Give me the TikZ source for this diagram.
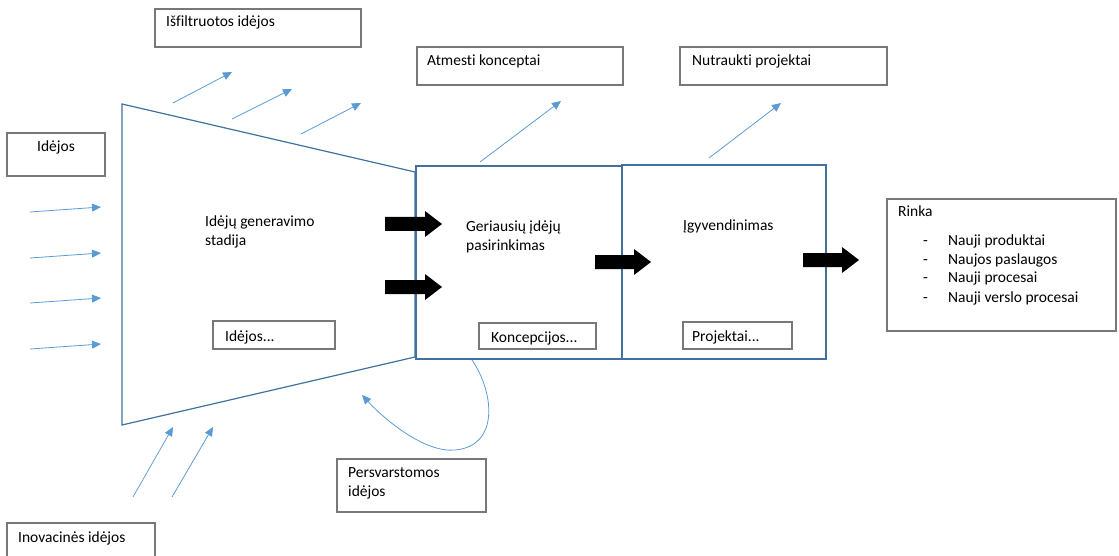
\documentclass[tikz,border=0pt]{standalone}
\usepackage{fontspec}
\setmainfont[Ligatures={NoCommon}]{Carlito}
\usetikzlibrary{arrows.meta}

\definecolor{stageblue}{RGB}{65,113,156}
\definecolor{flowblue}{RGB}{91,155,213}
\definecolor{boxgray}{RGB}{120,120,120}

\tikzset{
  stage/.style={draw=stageblue, line width=1.2pt},
  tagbox/.style={draw=boxgray, line width=1.1pt},
  flow/.style={draw=flowblue, line width=0.8pt,
    -{Triangle[length=9pt,width=8pt]}},
  lbl/.style={anchor=base west, inner sep=0pt,
    font=\fontsize{15.5}{19}\selectfont}
}

\begin{document}
\begin{tikzpicture}[x=1pt, y=-1pt]
  \useasboundingbox (0,0) rectangle (1119,556);

  % Etapai
  \draw[stage] (122,104) -- (415,172) -- (415,357) -- (122,425) -- cycle;
  \draw[stage] (416,166) rectangle (622,359);
  \draw[stage] (622,165) rectangle (826,359);

  \node[lbl] (genstage) at (205,227) {Idėjų generavimo};
  \node[lbl] (genstage2) at (205,245) {stadija};
  \node[lbl] (bestpick) at (466,232) {Geriausių įdėjų};
  \node[lbl] (bestpick2) at (466,251) {pasirinkimas};
  \node[lbl] (impl) at (683,230) {Įgyvendinimas};

  % Vidiniai langeliai
  \draw[tagbox] (213,321) rectangle (335,349);
  \node[lbl] (ideas) at (225,341) {Idėjos...};
  \draw[tagbox] (479,323) rectangle (596,349);
  \node[lbl] (concepts) at (491,342) {Koncepcijos...};
  \draw[tagbox] (683,322) rectangle (792,349);
  \node[lbl] (projects) at (692,341) {Projektai...};

  % Išoriniai langeliai
  \draw[tagbox] (155,9) rectangle (361,47);
  \node[lbl] (filtered) at (166,27) {Išfiltruotos idėjos};
  \draw[tagbox] (7,133) rectangle (105,176);
  \node[lbl] (inputs) at (37,152) {Idėjos};
  \draw[tagbox] (417,47) rectangle (623,85);
  \node[lbl] (rejected) at (427,66) {Atmesti konceptai};
  \draw[tagbox] (680,47) rectangle (887,85);
  \node[lbl] (stopped) at (692,66) {Nutraukti projektai};
  \draw[tagbox] (337,459) rectangle (486,512);
  \node[lbl] (reconsider) at (348,477) {Persvarstomos};
  \node[lbl] (reconsider2) at (348,496) {idėjos};
  \draw[tagbox] (7,556) -- (7,523) -- (155,523) -- (155,556);
  \node[lbl] (innov) at (18,542) {Inovacinės idėjos};

  % Rinka
  \draw[tagbox] (887,199) rectangle (1116,331);
  \node[lbl] (market) at (898,217) {Rinka};
  \foreach \yb/\item [count=\k] in {245/Nauji produktai, 264/Naujos paslaugos,
      282/Nauji procesai, 302/Nauji verslo procesai} {
    \node[lbl] (dash\k) at (923,\yb) {-};
    \node[lbl] (item\k) at (948,\yb) {\item};
  }

  % Srautai
  \foreach \ya/\yb in {212/207, 258/253, 303/298, 349/344}
    \draw[flow] (30,\ya) -- (101,\yb);
  \draw[flow] (173,103) -- (232,72);
  \draw[flow] (232,119) -- (292,89);
  \draw[flow] (301,134) -- (361,103);
  \draw[flow] (480,162) -- (561,101);
  \draw[flow] (709,158) -- (781,103);
  \draw[flow] (133,497) -- (173,427);
  \draw[flow] (172,497) -- (213,427);
  \draw[flow] (472,360) .. controls (494,392) and (500,446) .. (455,450)
    .. controls (425,453) and (385,420) .. (362,395);

  % Juodos rodyklės
  \foreach \xa/\xb/\yc in {385/442/224, 385/442/287, 595/651/262, 803/859/260}
    \fill[black] (\xa,\yc-7) -- (\xb-17,\yc-7) -- (\xb-17,\yc-13)
      -- (\xb,\yc) -- (\xb-17,\yc+13) -- (\xb-17,\yc+7) -- (\xa,\yc+7) -- cycle;
\end{tikzpicture}
\end{document}
